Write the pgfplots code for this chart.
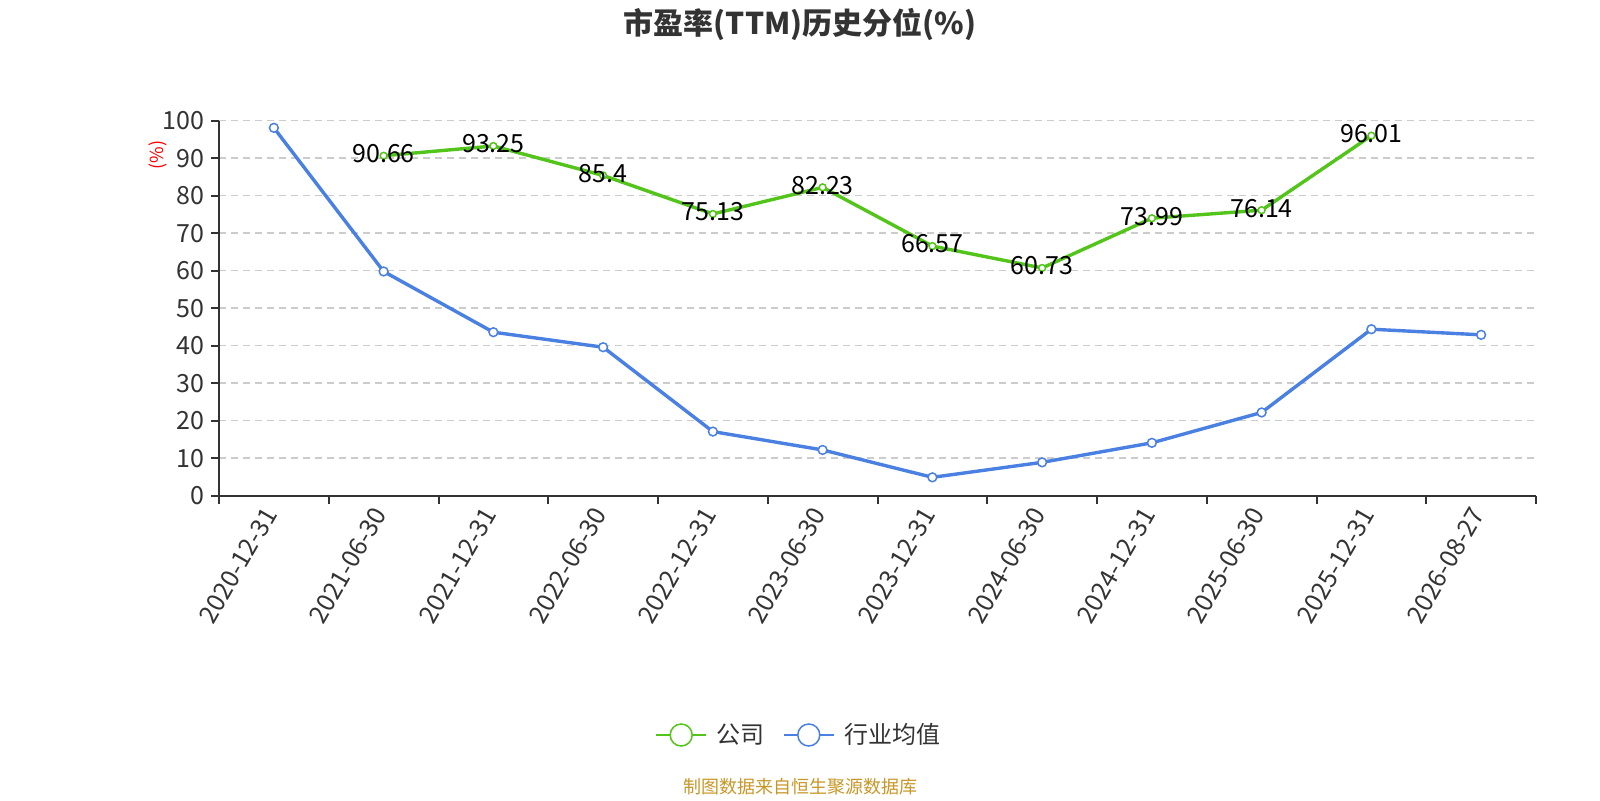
\documentclass[border=0pt]{standalone}
\usepackage{fontspec}
\setmainfont{Noto Sans CJK SC}
\usepackage{pgfplots}
\pgfplotsset{compat=1.18}
\definecolor{cgreen}{RGB}{82,196,26}
\definecolor{cblue}{RGB}{74,128,226}
\definecolor{ctext}{RGB}{51,51,51}
\definecolor{cgrid}{RGB}{204,204,204}
\definecolor{cfoot}{RGB}{200,150,40}
\begin{document}
\begin{tikzpicture}
\useasboundingbox (0,0) rectangle (800pt,400pt);
\begin{axis}[
  at={(109.5pt,152.15pt)}, anchor=south west, scale only axis,
  width=658.5pt, height=187.5pt,
  xmin=-0.5, xmax=11.5, ymin=0, ymax=100,
  axis lines*=left,
  axis line style={ctext, line width=1pt},
  xtick={-0.5,0.5,...,11.5},
  x tick label as interval,
  xticklabels={2020-12-31,2021-06-30,2021-12-31,2022-06-30,2022-12-31,2023-06-30,2023-12-31,2024-06-30,2024-12-31,2025-06-30,2025-12-31,2026-08-27},
  ytick={0,10,...,100},
  tick align=outside,
  major tick length=4pt,
  tick style={ctext, line width=1pt},
  ymajorgrids,
  grid style={cgrid, line width=0.75pt, dash pattern=on 3.5pt off 2.5pt},
  ticklabel style={font=\fontsize{12.5}{14}\selectfont, text=ctext},
  /pgf/number format/assume math mode=true,
  xticklabel style={rotate=60, anchor=east},
  ylabel={(\%)},
  ylabel style={at={(axis description cs:-0.0463,0.9085)}, anchor=center, text=red, font=\fontsize{9}{10}\selectfont},
  legend style={at={(axis description cs:0.44115,-0.6381)}, anchor=center, draw=none, fill=none,
    legend columns=-1, font=\fontsize{12}{14}\selectfont, text=ctext,
    /tikz/every odd column/.append style={column sep=3pt},
    /tikz/every even column/.append style={column sep=7pt}},
  legend image code/.code={
    \draw[mark repeat=2,mark phase=2,#1,line width=0.8pt,mark size=5.5pt] plot coordinates {(0pt,0pt) (12.5pt,0pt) (25pt,0pt)};
  },
]
\addplot[cgreen, line width=1.7pt, mark=*, mark size=1.7pt,
  mark options={fill=white, line width=0.75pt, solid},
  nodes near coords, point meta=explicit symbolic,
  every node near coord/.append style={anchor=center, text=black, font=\fontsize{12.5}{14}\selectfont, yshift=1pt}]
  coordinates {
  (1,90.66) [90.66]
  (2,93.25) [93.25]
  (3,85.4) [85.4]
  (4,75.13) [75.13]
  (5,82.23) [82.23]
  (6,66.57) [66.57]
  (7,60.73) [60.73]
  (8,73.99) [73.99]
  (9,76.14) [76.14]
  (10,96.01) [96.01]
  };
\addlegendentry{公司}
\addplot[cblue, line width=1.7pt, mark=*, mark size=2.2pt,
  mark options={fill=white, line width=0.75pt, solid}]
  coordinates {
  (0,98.1) (1,59.8) (2,43.6) (3,39.6) (4,17.1) (5,12.2)
  (6,4.9) (7,8.9) (8,14.1) (9,22.2) (10,44.4) (11,42.9)
  };
\addlegendentry{行业均值}
\end{axis}
\node[font=\bfseries\fontsize{15}{17}\selectfont, text=ctext] at (400pt,388pt) {市盈率(TTM)历史分位(\%)};
\node[font=\fontsize{9}{10}\selectfont, text=cfoot] at (400pt,6.5pt) {制图数据来自恒生聚源数据库};
\end{tikzpicture}
\end{document}
